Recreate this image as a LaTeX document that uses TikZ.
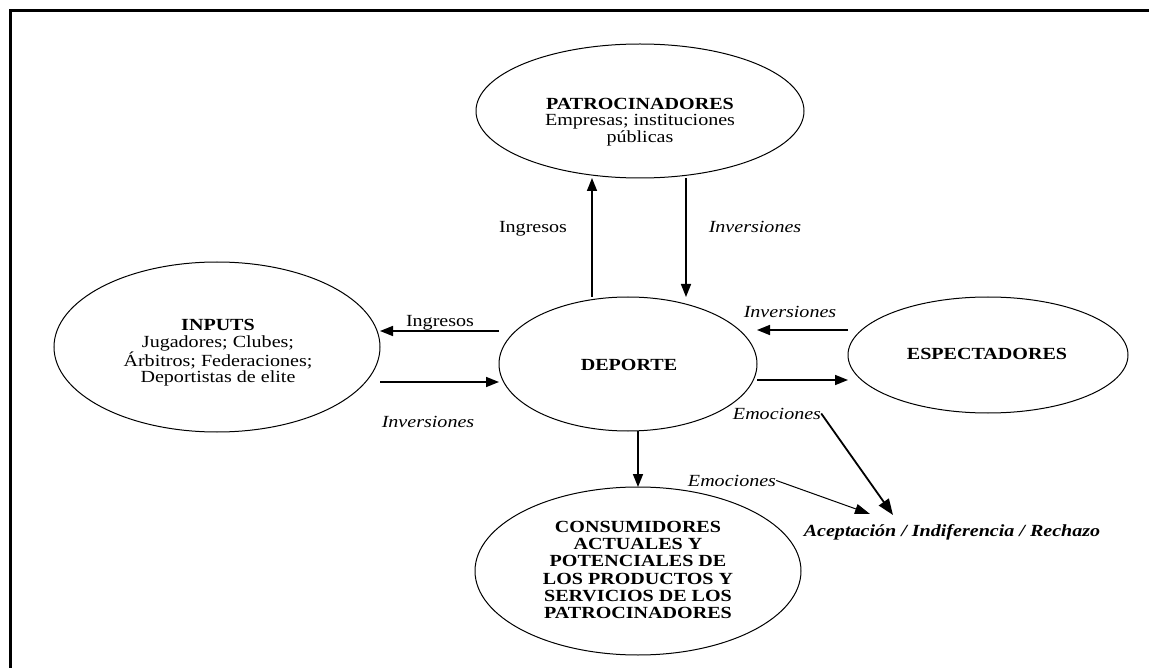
\documentclass[tikz,border=0pt]{standalone}
\usepackage{fontspec}
\setmainfont{Liberation Serif}[FakeStretch=1.18]
\usetikzlibrary{shapes.geometric,arrows.meta}
\begin{document}
\begin{tikzpicture}[x=1pt,y=-1pt,
  ell/.style={draw, ellipse, line width=1pt, inner sep=0pt, outer sep=0pt},
  txt/.style={align=center, font=\fontsize{17}{16.5}\selectfont, inner sep=0pt},
  lbl/.style={anchor=base, inner sep=0pt, font=\fontsize{17}{16.5}\selectfont},
  itl/.style={anchor=base, inner sep=0pt, font=\fontsize{17}{16.5}\selectfont\itshape},
  arr/.style={line width=1.6pt, -{Triangle[length=13pt,width=10pt]}}]
\useasboundingbox (0,0) rectangle (1149,668);
\draw[line width=3pt] (10,668) -- (10,11) -- (1149,11);

% ellipses
\node[ell, minimum width=328pt, minimum height=134pt] (pat) at (640,111) {};
\node[ell, minimum width=326pt, minimum height=170pt] (inp) at (217,347) {};
\node[ell, minimum width=258pt, minimum height=134pt] (dep) at (628,364) {};
\node[ell, minimum width=280pt, minimum height=116pt] (esp) at (988,355) {};
\node[ell, minimum width=326pt, minimum height=168pt] (con) at (638,571) {};

% texts
\node[txt, font=\fontsize{17}{16.5}\selectfont] (patT) at (640,122) {\textbf{PATROCINADORES}\\Empresas; instituciones\\públicas};
\node[txt] (inpT) at (218,353) {\textbf{INPUTS}\\Jugadores; Clubes;\\Árbitros; Federaciones;\\Deportistas de elite};
\node[txt] (depT) at (629,365) {\textbf{DEPORTE}};
\node[txt] (espT) at (987,354) {\textbf{ESPECTADORES}};
\node[txt, font=\fontsize{17}{17.2}\selectfont\bfseries] (conT) at (638,570) {CONSUMIDORES\\ACTUALES Y\\POTENCIALES DE\\LOS PRODUCTOS Y\\SERVICIOS DE LOS\\PATROCINADORES};

% arrows
\draw[arr] ([xshift=-36pt]dep.north) -- ([xshift=-48pt]pat.south);
\draw[arr] ([xshift=46pt]pat.south) -- ([xshift=58pt]dep.north);
\draw[arr] ([yshift=33pt]dep.west) -- ([yshift=16pt]inp.east);
\draw[arr] ([yshift=-35pt]inp.east) -- ([yshift=-18pt]dep.west);
\draw[arr] ([yshift=25pt]esp.west) -- ([yshift=34pt]dep.east);
\draw[arr] ([yshift=-16pt]dep.east) -- ([yshift=-25pt]esp.west);
\draw[arr] ([xshift=10pt]dep.south) -- (con.north);

% labels
\node[lbl] (ing1) at (533,233) {Ingresos};
\node[itl] (inv1) at (755,233) {Inversiones};
\node[lbl] (ing2) at (440,327) {Ingresos};
\node[itl] (inv2) at (428,427) {Inversiones};
\node[itl] (inv3) at (790,318) {Inversiones};
\node[itl] (em1) at (777,419) {Emociones};
\node[itl] (em2) at (732,486) {Emociones};
\node[itl, font=\fontsize{17}{16.5}\selectfont\bfseries\itshape] (acc) at (952,536) {Aceptación / Indiferencia / Rechazo};

\coordinate (t1) at (893,515);
\coordinate (t2) at (870,514);
\draw[line width=1.8pt, -{Triangle[length=16pt,width=12pt]}] (em1.east) -- (t1);
\draw[line width=1pt, -{Triangle[length=15pt,width=10pt]}] (em2.east) -- (t2);
\end{tikzpicture}
\end{document}
